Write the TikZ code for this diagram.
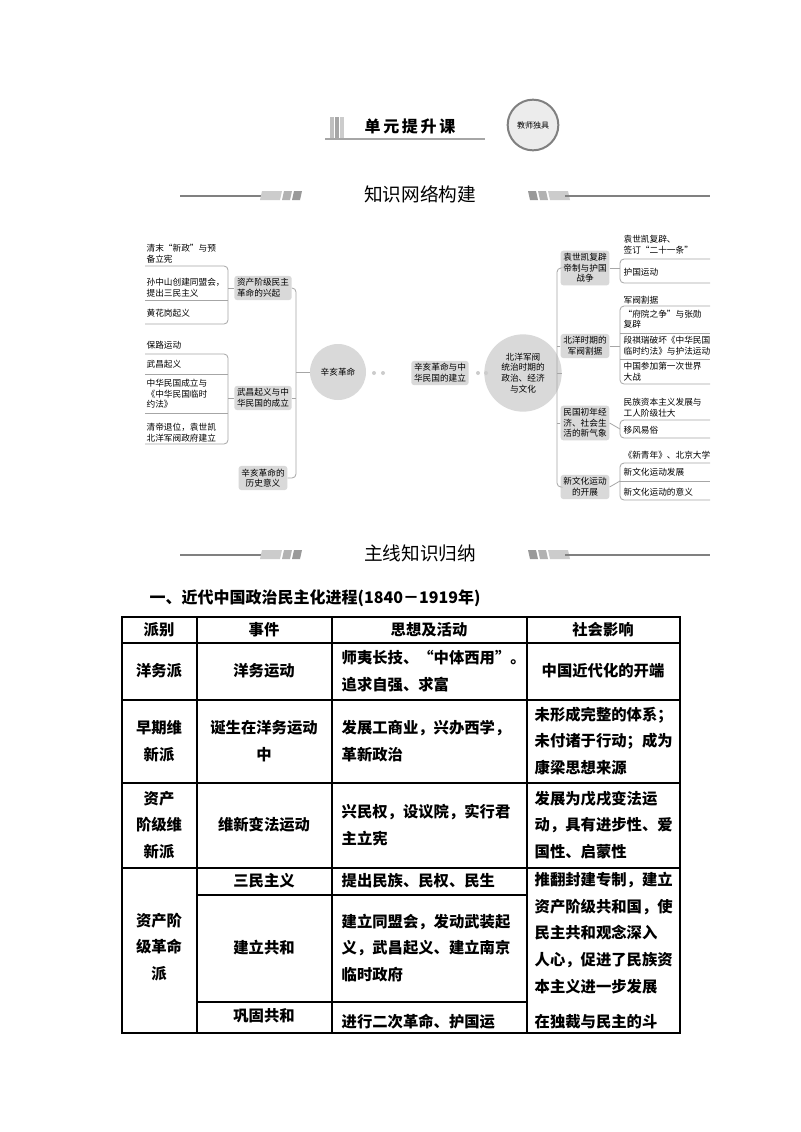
\documentclass[tikz,border=0pt]{standalone}
\usepackage{fontspec}
\setmainfont{Noto Sans CJK SC}
\begin{document}
\begin{tikzpicture}[x=0.75pt,y=-0.75pt,
  gbox/.style={fill=gray!30,rounded corners=2pt,align=left,font=\fontsize{6.5}{8}\selectfont,inner sep=2pt},
  gcirc/.style={circle,fill=gray!30,align=center,font=\fontsize{6.5}{8}\selectfont,inner sep=1pt},
  leaf/.style={anchor=west,align=left,font=\fontsize{6.5}{8}\selectfont,inner sep=1pt,text width=72pt},
  ln/.style={draw=gray!70,line width=0.6pt},
  cell/.style={font=\fontsize{11.5}{20}\selectfont\bfseries,align=left},
  ccell/.style={font=\fontsize{11.5}{20}\selectfont\bfseries,align=center}]
\useasboundingbox (0,0) rectangle (800,1132);
\fill[white] (0,0) rectangle (800,1132);
% top header
\foreach \i/\c in {0/gray!50,5/gray!70,10/gray!40}{\fill[\c] (330+\i,117) rectangle (334+\i,138);}
\node (ttl) at (410,126) {\fontsize{12}{14}\selectfont\bfseries\itshape 单\,元\,提\,升\,课};
\draw[gray!70,line width=0.8pt] (325,139) -- (485,139);
\node[circle,draw=gray,line width=1.5pt,fill=gray!15,minimum size=38pt,inner sep=0pt] (badge) at (533,125) {\fontsize{6}{7}\selectfont 教师独具};
% section header 1
\node (s1) at (420,194) {\fontsize{14}{16}\selectfont 知识网络构建};
\draw[gray,line width=0.8pt] (180,196) -- (265,196);
\fill[gray!40] (262,191)--(282,191)--(280,200)--(260,200)--cycle;
\fill[gray!60] (284,191)--(292,191)--(290,200)--(282,200)--cycle;
\fill[gray!80] (294,191)--(302,191)--(300,200)--(292,200)--cycle;
\fill[gray!80] (528,191)--(536,191)--(538,200)--(530,200)--cycle;
\fill[gray!60] (538,191)--(546,191)--(548,200)--(540,200)--cycle;
\fill[gray!40] (548,191)--(568,191)--(570,200)--(550,200)--cycle;
\draw[gray,line width=0.8pt] (565,196) -- (710,196);
% section header 2
\node (s2) at (420,553) {\fontsize{14}{16}\selectfont 主线知识归纳};
\draw[gray,line width=0.8pt] (180,555) -- (265,555);
\fill[gray!40] (262,550)--(282,550)--(280,559)--(260,559)--cycle;
\fill[gray!60] (284,550)--(292,550)--(290,559)--(282,559)--cycle;
\fill[gray!80] (294,550)--(302,550)--(300,559)--(292,559)--cycle;
\fill[gray!80] (528,550)--(536,550)--(538,559)--(530,559)--cycle;
\fill[gray!60] (538,550)--(546,550)--(548,559)--(540,559)--cycle;
\fill[gray!40] (548,550)--(568,550)--(570,559)--(550,559)--cycle;
\draw[gray,line width=0.8pt] (565,555) -- (710,555);
% mind map centre
\node[gcirc,minimum size=42pt] (c1) at (338,372) {辛亥革命};
\node[gbox,align=center] (c2) at (440,373) {辛亥革命与中\\华民国的建立};
\node[gcirc,minimum size=58pt] (c3) at (523,373) {北洋军阀\\统治时期的\\政治、经济\\与文化};
\fill[gray!40] (374,373) circle (2) (383,373) circle (2) (478,373) circle (2) (486,373) circle (2);
% left branches
\node[gbox] (l1) at (263,288) {资产阶级民主\\革命的兴起};
\node[gbox] (l2) at (263,398) {武昌起义与中\\华民国的成立};
\node[gbox,align=center] (l3) at (263,478) {辛亥革命的\\历史意义};
\draw[ln] (c1.west) -- (296,372);
\draw[ln,rounded corners=3pt] (l1.east) -- (296,288) -- (296,478) -- (l3.east);
\draw[ln] (l2.east) -- (296,398);
% left leaves group1
\node[leaf] (a1) at (145,254) {清末“新政”与预\\备立宪};
\node[leaf] (a2) at (145,288) {孙中山创建同盟会，\\提出三民主义};
\node[leaf] (a3) at (145,313) {黄花岗起义};
\draw[ln,rounded corners=3pt] (145,266) -- (228,266) -- (228,324) -- (145,324);
\draw[ln] (145,300) -- (228,300);
\draw[ln] (228,288) -- (l1.west);
% group2
\node[leaf] (b1) at (145,345) {保路运动};
\node[leaf] (b2) at (145,364) {武昌起义};
\node[leaf] (b3) at (145,394) {中华民国成立与\\《中华民国临时\\约法》};
\node[leaf] (b4) at (145,433) {清帝退位，袁世凯\\北洋军阀政府建立};
\draw[ln,rounded corners=3pt] (145,354) -- (228,354) -- (228,444) -- (145,444);
\draw[ln] (145,374) -- (228,374) (145,413) -- (228,413);
\draw[ln] (228,398) -- (l2.west);
% right branches
\node[gbox,align=center] (r1) at (585,268) {袁世凯复辟\\帝制与护国\\战争};
\node[gbox,align=center] (r2) at (585,346) {北洋时期的\\军阀割据};
\node[gbox,align=center] (r3) at (585,423) {民国初年经\\济、社会生\\活的新气象};
\node[gbox,align=center] (r4) at (585,487) {新文化运动\\的开展};
\draw[ln] (c3.east) -- (557,373);
\draw[ln,rounded corners=3pt] (r1.west) -- (557,268) -- (557,487) -- (r4.west);
\draw[ln] (r2.west) -- (557,346) (r3.west) -- (557,423);
% right leaves
\node[leaf] (d1) at (622,245) {袁世凯复辟、\\签订“二十一条”};
\node[leaf] (d2) at (622,272) {护国运动};
\node[leaf] (e1) at (622,300) {军阀割据};
\node[leaf] (e2) at (622,319) {“府院之争”与张勋\\复辟};
\node[leaf] (e3) at (622,346) {段祺瑞破坏《中华民国\\临时约法》与护法运动};
\node[leaf] (e4) at (622,372) {中国参加第一次世界\\大战};
\node[leaf] (f1) at (622,408) {民族资本主义发展与\\工人阶级壮大};
\node[leaf] (f2) at (622,430) {移风易俗};
\node[leaf] (g1) at (622,455) {《新青年》、北京大学};
\node[leaf] (g2) at (622,472) {新文化运动发展};
\node[leaf] (g3) at (622,492) {新文化运动的意义};
\draw[ln,rounded corners=3pt] (710,259) -- (620,259) -- (620,283) -- (710,283);
\draw[ln] (r1.east) -- (620,268);
\draw[ln,rounded corners=3pt] (710,306) -- (620,306) -- (620,384) -- (710,384);
\draw[ln] (620,333) -- (710,333) (620,359) -- (710,359);
\draw[ln] (r2.east) -- (620,346);
\draw[ln,rounded corners=3pt] (710,420) -- (620,420) -- (620,438) -- (710,438);
\draw[ln] (r3.east) -- (620,429);
\draw[ln,rounded corners=3pt] (710,463) -- (620,463) -- (620,500) -- (710,500);
\draw[ln] (620,481) -- (710,481);
\draw[ln] (r4.east) -- (620,481);
% table title
\node[anchor=west,font=\fontsize{12}{14}\selectfont\bfseries] (tt) at (145,598) {一、近代中国政治民主化进程(1840－1919年)};
% table
\draw[line width=0.8pt] (122,617) rectangle (680,1033);
\draw[line width=0.8pt] (197,617) -- (197,1033) (332,617) -- (332,1033) (527,617) -- (527,1033);
\draw[line width=0.8pt] (122,643) -- (680,643) (122,700) -- (680,700) (122,783) -- (680,783) (122,868) -- (680,868);
\draw[line width=0.8pt] (197,895) -- (527,895) (197,1002) -- (527,1002);
\node[ccell] (h1) at (159,630) {派别};
\node[ccell] (h2) at (264,630) {事件};
\node[ccell] (h3) at (429,630) {思想及活动};
\node[ccell] (h4) at (603,630) {社会影响};
\node[ccell] (p1) at (159,671) {洋务派};
\node[ccell] (q1) at (264,671) {洋务运动};
\node[cell,anchor=west] (w1) at (337,671) {师夷长技、“中体西用”。\\追求自强、求富};
\node[ccell] (z1) at (603,671) {中国近代化的开端};
\node[ccell] (p2) at (159,741) {早期维\\新派};
\node[ccell] (q2) at (264,741) {诞生在洋务运动\\中};
\node[cell,anchor=west] (w2) at (337,741) {发展工商业，兴办西学，\\革新政治};
\node[cell,anchor=west] (z2) at (530,741) {未形成完整的体系；\\未付诸于行动；成为\\康梁思想来源};
\node[ccell] (p3) at (159,825) {资产\\阶级维\\新派};
\node[ccell] (q3) at (264,825) {维新变法运动};
\node[cell,anchor=west] (w3) at (337,825) {兴民权，设议院，实行君\\主立宪};
\node[cell,anchor=west] (z3) at (530,825) {发展为戊戌变法运\\动，具有进步性、爱\\国性、启蒙性};
\node[ccell] (p4) at (159,947) {资产阶\\级革命\\派};
\node[ccell] (q4) at (264,881) {三民主义};
\node[cell,anchor=west] (w4) at (337,881) {提出民族、民权、民生};
\node[ccell] (q5) at (264,948) {建立共和};
\node[cell,anchor=west] (w5) at (337,948) {建立同盟会，发动武装起\\义，武昌起义、建立南京\\临时政府};
\node[cell,anchor=west] (z4) at (530,933) {推翻封建专制，建立\\资产阶级共和国，使\\民主共和观念深入\\人心，促进了民族资\\本主义进一步发展};
\node[ccell] (q6) at (264,1016) {巩固共和};
\node[cell,anchor=west] (w6) at (337,1022) {进行二次革命、护国运};
\node[cell,anchor=west] (z5) at (530,1022) {在独裁与民主的斗};
\end{tikzpicture}
\end{document}
